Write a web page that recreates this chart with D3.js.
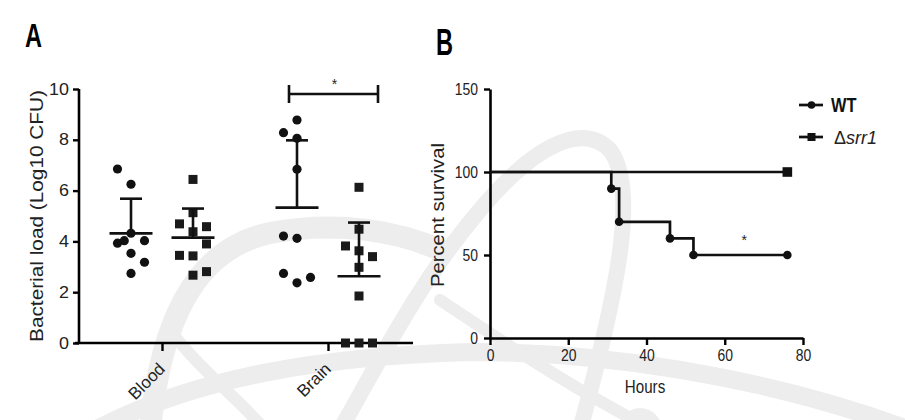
<!DOCTYPE html>
<html><head><meta charset="utf-8">
<script src="https://cdn.jsdelivr.net/npm/d3@7"></script>
<style>
html,body{margin:0;padding:0;background:#fff;}
svg{display:block;}
.reg{font-family:"Liberation Sans",Arial,Helvetica,sans-serif;}
</style></head>
<body>
<svg id="chart" width="905" height="420"></svg>
<script>
// ---------- Panel A data ----------
const categories = ["Blood", "Brain"];
const strains = ["WT", "Δsrr1"];
const bloodWT   = [6.85, 6.25, 4.32, 3.93, 4.03, 4.03, 3.53, 3.18, 2.74];
const bloodWTcol = [-1, 0, 0, -1, -0.5, 1, 0, 1, 0];
const bloodSrr1 = [6.44, 5.13, 4.69, 4.58, 4.38, 3.90, 3.45, 3.43, 2.67, 2.81];
const bloodSrr1col = [0, 0, -1, 1, 0, 1, -1, 0, 0, 1];
const brainWT   = [8.28, 8.78, 8.06, 6.84, 4.21, 4.12, 2.74, 2.37, 2.58];
const brainWTcol = [-1, 0, 0, 0, -1, 0, -1, 0, 1];
const brainSrr1 = [6.13, 4.48, 3.82, 3.63, 3.40, 2.98, 1.85, 0, 0, 0];
const brainSrr1col = [0, 0, -1, 0, 1, 0, 0, -1, 0, 1];
const yTicksA = [0, 2, 4, 6, 8, 10];
const sigLabelA = "*";

// ---------- Panel B data ----------
const hoursWT = [0, 31, 33, 46, 52, 76];
const survWT  = [100, 90, 70, 60, 50, 50];
const hoursSrr1 = [0, 76];
const survSrr1  = [100, 100];
const yTicksB = [0, 50, 100, 150];
const xTicksB = [0, 20, 40, 60, 80];
const sigLabelB = "*";

const svg = d3.select("#chart");
const SX = 0.82; // horizontal squeeze of panel B lettering

// ---------- faint watermark ----------
const wm = svg.append("g").attr("fill", "none").attr("stroke", "#ededed").attr("stroke-linecap","round");
wm.append("path").attr("stroke-width", 22)
  .attr("d", "M150,430 C160,330 190,250 270,233 C340,220 400,232 440,250");
wm.append("path").attr("stroke-width", 18)
  .attr("d", "M95,430 C200,375 330,356 470,352 C600,352 760,375 905,428");
wm.append("path").attr("stroke-width", 16)
  .attr("d", "M340,430 C380,360 420,280 480,210 C530,150 580,120 610,150 C640,190 615,300 580,430");
wm.append("path").attr("stroke-width", 12)
  .attr("d", "M170,330 C200,370 240,400 265,430");
wm.append("path").attr("stroke-width", 12)
  .attr("d", "M440,300 C500,340 560,380 625,415");
wm.append("circle").attr("cx", 640).attr("cy", 430).attr("r", 22).attr("fill", "#ededed").attr("stroke", "none");

// ---------- Panel A ----------
const yA = d3.scaleLinear().domain([0, 10]).range([343, 89]);
const xCat = d3.scalePoint().domain(categories).range([162, 328]);
const xSub = d3.scalePoint().domain(strains).range([-31, 31]);
const colW = 13.5;

const gA = svg.append("g");
const yAxisA = d3.axisLeft(yA).tickValues(yTicksA).tickSize(6).tickSizeOuter(0).tickPadding(4);
const ya = gA.append("g").attr("transform", "translate(79,0)").call(yAxisA);
ya.select(".domain").attr("stroke-width", 2.6).attr("d", `M0,${yA(10)}V${yA(0)}`);
ya.selectAll(".tick line").attr("stroke-width", 2.4);
ya.selectAll(".tick text").attr("class", "reg").attr("font-size", 16).attr("fill", "#222")
  .attr("x", -10 / 1.12).attr("transform", "scale(1.12,1)");

const xAxisA = d3.axisBottom(xCat).tickSize(8).tickSizeOuter(0).tickFormat("");
const xa = gA.append("g").attr("transform", `translate(0,${yA(0)})`).call(xAxisA);
xa.select(".domain").attr("stroke-width", 2.6).attr("d", "M75,0H413");
xa.selectAll(".tick line").attr("stroke-width", 2.4);
gA.selectAll("text.catlab").data(categories).join("text")
  .attr("class", "reg catlab").attr("font-size", 17).attr("fill", "#222")
  .attr("text-anchor", "end")
  .attr("transform", d => `translate(${xCat(d) + 4},${yA(0) + 27}) rotate(-45)`)
  .text(d => d);

gA.append("text").attr("class", "reg").attr("font-size", 18).attr("fill", "#222")
  .attr("text-anchor", "middle").attr("textLength", 252).attr("lengthAdjust", "spacingAndGlyphs")
  .attr("transform", "translate(43,216) rotate(-90)")
  .text("Bacterial load (Log10 CFU)");

const groupsA = [
  {cat: "Blood", strain: "WT", vals: bloodWT, cols: bloodWTcol},
  {cat: "Blood", strain: "Δsrr1", vals: bloodSrr1, cols: bloodSrr1col},
  {cat: "Brain", strain: "WT", vals: brainWT, cols: brainWTcol},
  {cat: "Brain", strain: "Δsrr1", vals: brainSrr1, cols: brainSrr1col}
];
groupsA.forEach(g => {
  const cx = xCat(g.cat) + xSub(g.strain);
  const m = d3.mean(g.vals), sd = d3.deviation(g.vals);
  const gg = gA.append("g");
  g.vals.forEach((v, i) => {
    const px = cx + g.cols[i] * colW, py = yA(v);
    if (g.strain === "WT") gg.append("circle").attr("cx", px).attr("cy", py).attr("r", 4.6).attr("fill", "#111");
    else gg.append("rect").attr("x", px - 4.5).attr("y", py - 4.5).attr("width", 9).attr("height", 9).attr("fill", "#1a1a1a");
  });
  gg.append("line").attr("x1", cx - 21.5).attr("x2", cx + 21.5).attr("y1", yA(m)).attr("y2", yA(m))
    .attr("stroke", "#111").attr("stroke-width", 2.6);
  gg.append("line").attr("x1", cx).attr("x2", cx).attr("y1", yA(m)).attr("y2", yA(m + sd))
    .attr("stroke", "#111").attr("stroke-width", 2.6);
  gg.append("line").attr("x1", cx - 11).attr("x2", cx + 11).attr("y1", yA(m + sd)).attr("y2", yA(m + sd))
    .attr("stroke", "#111").attr("stroke-width", 2.6);
});

const bx1 = xCat("Brain") + xSub("WT") - 8, bx2 = xCat("Brain") + xSub("Δsrr1") + 19;
const by = 94;
gA.append("path").attr("fill", "none").attr("stroke", "#111").attr("stroke-width", 2.6)
  .attr("d", `M${bx1},${by - 9}V${by + 9}M${bx1},${by}H${bx2}M${bx2},${by - 9}V${by + 9}`);
gA.append("text").attr("class", "reg").attr("font-size", 14).attr("fill", "#222")
  .attr("text-anchor", "middle").attr("x", (bx1 + bx2) / 2 + 1).attr("y", 89).text(sigLabelA);

// ---------- Panel B ----------
const xB = d3.scaleLinear().domain([0, 80]).range([490, 803]);
const yB = d3.scaleLinear().domain([0, 150]).range([338, 89]);
const gB = svg.append("g");

const yb = gB.append("g").attr("transform", "translate(490,0)")
  .call(d3.axisLeft(yB).tickValues(yTicksB).tickSize(6).tickSizeOuter(0).tickPadding(5));
yb.select(".domain").attr("stroke-width", 2.6);
yb.selectAll(".tick line").attr("stroke-width", 2.4);
yb.selectAll(".tick text").attr("class", "reg").attr("font-size", 17).attr("fill", "#222")
  .attr("x", -12 / SX).attr("transform", `scale(${SX},1)`);

const xb = gB.append("g").attr("transform", `translate(0,${yB(0)})`)
  .call(d3.axisBottom(xB).tickValues(xTicksB).tickSize(7).tickSizeOuter(0).tickPadding(4));
xb.select(".domain").attr("stroke-width", 2.6);
xb.selectAll(".tick line").attr("stroke-width", 2.4);
xb.selectAll(".tick text").attr("class", "reg").attr("font-size", 17).attr("fill", "#222")
  .attr("transform", `scale(${SX},1)`);

gB.append("text").attr("class", "reg").attr("font-size", 18.5).attr("fill", "#222")
  .attr("text-anchor", "middle").attr("transform", `translate(645,393) scale(${SX},1)`).text("Hours");
gB.append("text").attr("class", "reg").attr("font-size", 18).attr("fill", "#222")
  .attr("text-anchor", "middle").attr("textLength", 144).attr("lengthAdjust", "spacingAndGlyphs")
  .attr("transform", "translate(444,215) rotate(-90)")
  .text("Percent survival");

const stepLine = d3.line().x(d => xB(d[0])).y(d => yB(d[1])).curve(d3.curveStepAfter);
const srr1Pts = hoursSrr1.map((h, i) => [h, survSrr1[i]]);
const wtPts = hoursWT.map((h, i) => [h, survWT[i]]);
gB.append("path").datum(srr1Pts).attr("d", stepLine).attr("fill", "none").attr("stroke", "#111").attr("stroke-width", 2.7);
gB.append("path").datum(wtPts).attr("d", stepLine).attr("fill", "none").attr("stroke", "#111").attr("stroke-width", 2.7);
gB.selectAll("circle.wt").data(wtPts.slice(1)).join("circle").attr("class", "wt")
  .attr("cx", d => xB(d[0])).attr("cy", d => yB(d[1])).attr("r", 4.3).attr("fill", "#111");
gB.selectAll("rect.srr").data(srr1Pts.slice(1)).join("rect").attr("class", "srr")
  .attr("x", d => xB(d[0]) - 4.8).attr("y", d => yB(d[1]) - 4.8).attr("width", 9.6).attr("height", 9.6).attr("fill", "#111");
gB.append("text").attr("class", "reg").attr("font-size", 14).attr("fill", "#222")
  .attr("text-anchor", "middle").attr("x", xB(65)).attr("y", 245).text(sigLabelB);

// legend
const leg = gB.append("g");
leg.append("line").attr("x1", 799).attr("x2", 823).attr("y1", 105).attr("y2", 105).attr("stroke", "#111").attr("stroke-width", 2.7);
leg.append("circle").attr("cx", 811.5).attr("cy", 105).attr("r", 3.8).attr("fill", "#111");
leg.append("text").attr("class", "reg").attr("font-size", 21).attr("font-weight", "bold").attr("fill", "#111")
  .attr("transform", "translate(831,112) scale(0.78,1)").text(strains[0]);
leg.append("line").attr("x1", 799).attr("x2", 823).attr("y1", 137).attr("y2", 137).attr("stroke", "#111").attr("stroke-width", 2.7);
leg.append("rect").attr("x", 807.5).attr("y", 133).attr("width", 8).attr("height", 8).attr("fill", "#111");
const t2 = leg.append("text").attr("class", "reg").attr("font-size", 18).attr("fill", "#222")
  .attr("x", 834).attr("y", 144);
t2.append("tspan").text(strains[1].slice(0, 1));
t2.append("tspan").attr("font-style", "italic").text(strains[1].slice(1));

// panel letters
svg.append("text").attr("class", "reg").attr("font-weight", "bold").attr("font-size", 34)
  .attr("x", 25).attr("y", 47).attr("textLength", 17).attr("lengthAdjust", "spacingAndGlyphs").text("A");
svg.append("text").attr("class", "reg").attr("font-weight", "bold").attr("font-size", 36)
  .attr("x", 436).attr("y", 55).attr("textLength", 17).attr("lengthAdjust", "spacingAndGlyphs").text("B");
</script>
</body></html>
